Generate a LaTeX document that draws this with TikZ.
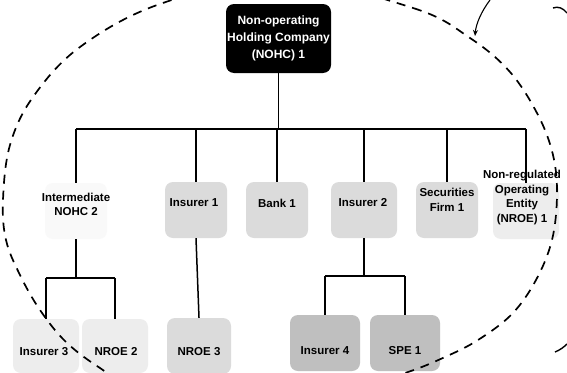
\documentclass[tikz,border=0pt]{standalone}
\usepackage{fontspec}
\setmainfont{Liberation Sans}
\usetikzlibrary{arrows.meta}
\begin{document}
\begin{tikzpicture}[x=1pt,y=-1pt,
  orgbox/.style={rounded corners=8pt, minimum width=#1, inner sep=0pt},
  lbl/.style={font=\bfseries\fontsize{11.5}{14.5}\selectfont, align=center, inner sep=0pt},
  conn/.style={line width=1.5pt},
  bound/.style={line width=1.7pt, dash pattern=on 9pt off 7pt},
  light/.style={fill=gray!28},
  pale/.style={fill=gray!14},
  dark/.style={fill=gray!50}]
\useasboundingbox (0,0) rectangle (567,372);
\clip (0,0) rectangle (567,372);
\fill[white] (0,0) rectangle (567,372);

% top node
\node[orgbox=105pt, minimum height=69pt, fill=black, text=white,
      font=\bfseries\fontsize{12}{17}\selectfont, align=center] (top) at (278.5,38.5)
  {Non-operating\\Holding Company\\(NOHC) 1};

% level 1 boxes
\node[orgbox=62pt, minimum height=56pt, fill=gray!5] (nohc2) at (76,211) {};
\node[orgbox=62pt, minimum height=56pt, light] (ins1) at (196,210) {};
\node[orgbox=62pt, minimum height=56pt, light] (bank1) at (277,210) {};
\node[orgbox=66pt, minimum height=56pt, light] (ins2) at (364,210) {};
\node[orgbox=62pt, minimum height=56pt, light] (sec1) at (447,210) {};
\node[orgbox=66pt, minimum height=56pt, pale] (nroe1) at (526,211) {};

\node[lbl] (nohc2t) at (76,204.5) {Intermediate\\NOHC 2};
\node[lbl] (ins1t) at (194,203) {Insurer 1};
\node[lbl] (bank1t) at (277,203) {Bank 1};
\node[lbl] (ins2t) at (363,203) {Insurer 2};
\node[lbl] (sec1t) at (447,200) {Securities\\Firm 1};
\node[lbl] (nroe1t) at (522,197.5) {Non-regulated\\Operating\\Entity\\(NROE) 1};

% level 2 boxes
\node[orgbox=66pt, minimum height=54pt, pale] (ins3) at (46,346) {};
\node[orgbox=66pt, minimum height=54pt, pale] (nroe2) at (115,346) {};
\node[orgbox=64pt, minimum height=56pt, light] (nroe3) at (199,346) {};
\node[orgbox=70pt, minimum height=56pt, dark] (ins4) at (325,343) {};
\node[orgbox=70pt, minimum height=56pt, dark] (spe1) at (405,343) {};

\node[lbl] (ins3t) at (44,352) {Insurer 3};
\node[lbl] (nroe2t) at (116,352) {NROE 2};
\node[lbl] (nroe3t) at (199,352) {NROE 3};
\node[lbl] (ins4t) at (325,351) {Insurer 4};
\node[lbl] (spe1t) at (405,351) {SPE 1};

% connectors level 0 -> 1
\coordinate (bar) at (0,129);
\draw[conn] (top.south) -- (top.south |- bar);
\draw[conn] (nohc2.north |- bar) -- (nroe1.north |- bar);
\foreach \n in {nohc2,ins1,bank1,ins2,sec1,nroe1}
  \draw[conn] (\n.north |- bar) -- (\n.north);

% connectors level 1 -> 2
\coordinate (bar2) at (0,278);
\draw[conn] (nohc2.south) -- (nohc2.south |- bar2);
\draw[conn] (ins3.north |- bar2) -- (nroe2.north |- bar2);
\draw[conn] (ins3.north |- bar2) -- (ins3.north);
\draw[conn] (nroe2.north |- bar2) -- (nroe2.north);
\draw[conn] (ins1.south) -- (nroe3.north);
\coordinate (bar3) at (0,276);
\draw[conn] (ins2.south) -- (ins2.south |- bar3);
\draw[conn] (ins4.north |- bar3) -- (spe1.north |- bar3);
\draw[conn] (ins4.north |- bar3) -- (ins4.north);
\draw[conn] (spe1.north |- bar3) -- (spe1.north);

% boundary of the group (drawn over the boxes)
\draw[bound] plot[smooth cycle, tension=0.6] coordinates {
  (280,-22) (413,8) (470,38) (510,72) (538,115) (553,155) (557,195)
  (552,240) (536,280) (512,314) (478,340) (445,357) (405,373)
  (330,395) (230,402) (140,390) (100,368) (66,342) (40,310)
  (20,275) (6,240) (3,200) (10,145) (33,97) (80,47) (160,4)};

% pointer arrow
\coordinate (arrs) at (490,0);
\coordinate (arre) at (475,36);
\draw[line width=1.1pt, -{Stealth[length=6pt,width=5pt]}] (arrs) .. controls (481,12) and (476,24) .. (arre);

% partial outlines at the right edge
\coordinate (tr1) at (553,8);
\coordinate (tr2) at (567,13);
\draw[line width=1.4pt] (tr1) .. controls (558,6) and (563,8) .. (tr2);
\coordinate (br1) at (555,352);
\coordinate (br2) at (567,344);
\draw[line width=1.4pt] (br1) .. controls (560,350) and (564,347) .. (br2);
\end{tikzpicture}
\end{document}
